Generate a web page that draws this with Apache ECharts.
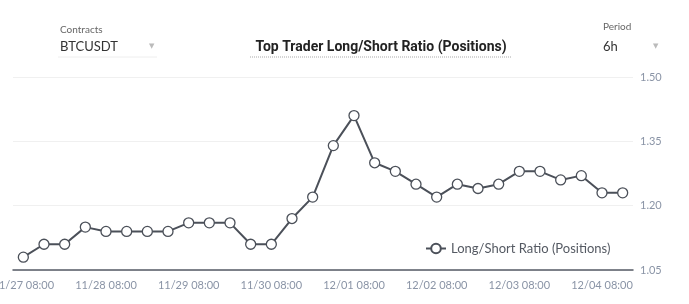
<!DOCTYPE html>
<html>
<head>
<meta charset="utf-8">
<script src="https://cdn.jsdelivr.net/npm/echarts@6/dist/echarts.min.js"></script>
<style>
html,body{margin:0;padding:0;background:#fff;}
#chart{width:689px;height:304px;}
</style>
</head>
<body>
<div id="chart"></div>
<script>
var categories = [
  '11/27 08:00','11/27 14:00','11/27 20:00','11/28 02:00',
  '11/28 08:00','11/28 14:00','11/28 20:00','11/29 02:00',
  '11/29 08:00','11/29 14:00','11/29 20:00','11/30 02:00',
  '11/30 08:00','11/30 14:00','11/30 20:00','12/01 02:00',
  '12/01 08:00','12/01 14:00','12/01 20:00','12/02 02:00',
  '12/02 08:00','12/02 14:00','12/02 20:00','12/03 02:00',
  '12/03 08:00','12/03 14:00','12/03 20:00','12/04 02:00',
  '12/04 08:00','12/04 14:00'
];
var ratioValues = [
  1.08,1.11,1.11,1.15,
  1.14,1.14,1.14,1.14,
  1.16,1.16,1.16,1.11,
  1.11,1.17,1.22,1.34,
  1.41,1.30,1.28,1.25,
  1.22,1.25,1.24,1.25,
  1.28,1.28,1.26,1.27,
  1.23,1.23
];
var yTicks = [1.05, 1.20, 1.35, 1.50];
var seriesName = 'Long/Short Ratio (Positions)';
var chartTitle = 'Top Trader Long/Short Ratio (Positions)';

var chart = echarts.init(document.getElementById('chart'));
var labelColor = '#8a94a6';
chart.setOption({
  animation: false,
  backgroundColor: '#fff',
  grid: {left: 13, right: 56, top: 77, bottom: 34, containLabel: false, outerBoundsMode: 'none'},
  legend: {
    data: [seriesName],
    left: 420, top: 237,
    itemWidth: 20, itemHeight: 12, itemGap: 4,
    textStyle: {color: '#555a63', fontSize: 13, fontFamily: 'Lato'}
  },
  graphic: [
    {type: 'text', left: 60, top: 25, style: {text: 'Contracts', fill: '#666', font: '10px Lato'}},
    {type: 'text', left: 60, top: 40, style: {text: 'BTCUSDT', fill: '#333', font: '13px Lato'}},
    {type: 'text', left: 149, top: 43, style: {text: '▼', fill: '#bbb', font: '7px DejaVu Sans'}},
    {type: 'line', shape: {x1: 58, y1: 57, x2: 157, y2: 57}, style: {stroke: '#eeeeee', lineWidth: 1}},
    {type: 'text', left: 603, top: 22, style: {text: 'Period', fill: '#666', font: '10px Lato'}},
    {type: 'text', left: 603, top: 40, style: {text: '6h', fill: '#333', font: '13px Lato'}},
    {type: 'text', left: 653, top: 43, style: {text: '▼', fill: '#bbb', font: '7px DejaVu Sans'}},
    {type: 'text', x: 381, y: 47, style: {text: chartTitle, fill: '#222', font: 'bold 14px Roboto', align: 'center', verticalAlign: 'middle'}},
    {type: 'line', shape: {x1: 250, y1: 57, x2: 511, y2: 57}, style: {stroke: '#aaaaaa', lineWidth: 1, lineDash: [1, 1]}}
  ],
  xAxis: {
    type: 'category',
    data: categories,
    boundaryGap: true,
    axisLine: {show: true, lineStyle: {color: '#555b65', width: 1.5}},
    axisTick: {show: false},
    axisLabel: {interval: 3, color: labelColor, fontSize: 11, fontFamily: 'Lato', margin: 10, hideOverlap: false},
    splitLine: {show: false}
  },
  yAxis: {
    type: 'value',
    position: 'right',
    min: yTicks[0], max: yTicks[yTicks.length - 1], interval: 0.15,
    axisLine: {show: false},
    axisTick: {show: false},
    axisLabel: {color: labelColor, fontSize: 11, fontFamily: 'Lato', margin: 7,
      formatter: function (v) { return v.toFixed(2); }},
    splitLine: {show: true, lineStyle: {color: '#f0f0f0', width: 1}}
  },
  series: [{
    name: seriesName,
    type: 'line',
    data: ratioValues,
    symbol: 'circle',
    symbolSize: 10,
    lineStyle: {color: '#4b5059', width: 2},
    itemStyle: {color: '#ffffff', borderColor: '#4b5059', borderWidth: 1.3}
  }]
});
</script>
</body>
</html>
